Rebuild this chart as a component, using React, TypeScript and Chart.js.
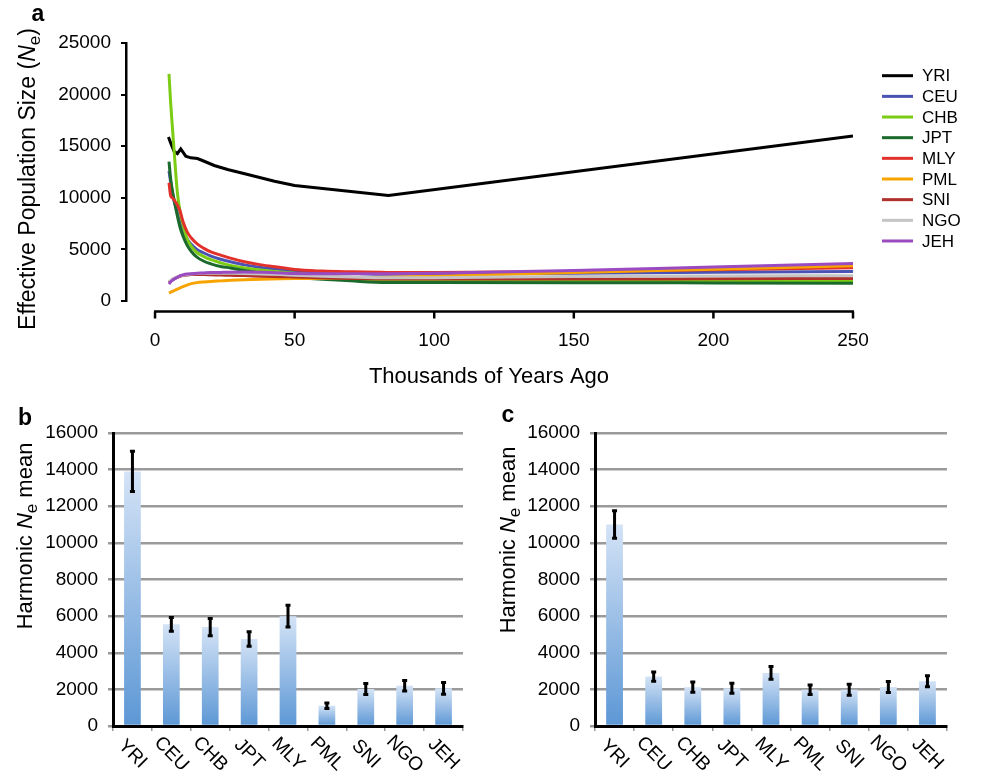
import React, { useEffect, useRef } from 'react';
import { Chart, registerables } from 'chart.js';
Chart.register(...registerables);

const FONT = '"Liberation Sans", Arial, Helvetica, sans-serif';

// ---------- Panel a data ----------
const populations = ['YRI', 'CEU', 'CHB', 'JPT', 'MLY', 'PML', 'SNI', 'NGO', 'JEH'];
const lineColors = ['#000000', '#4A52B4', '#7CCB14', '#1B6A2C', '#E2312B', '#F7A400', '#B0302A', '#C4C4C4', '#9B4BC2'];

const yriTimes = [4.8, 5.6, 6.8, 8, 9.2, 11, 12.8, 15.2, 17.6, 21.2, 26, 33.2, 42.8, 50, 83.6, 250];
const yriNe = [15900, 15320, 14510, 14285, 14740, 14030, 13870, 13800, 13540, 13130, 12740, 12260, 11610, 11200, 10230, 16000];

const timesKya = [5, 5.6, 6.2, 6.8, 8, 9, 10, 11.5, 13, 15, 17.5, 20, 23.5, 27, 32, 38, 45, 50, 60, 70, 83, 100, 150, 200, 250];
const ceuNe = [12600, 11500, 10500, 9700, 8560, 7500, 6900, 6000, 5500, 5000, 4650, 4350, 4050, 3800, 3500, 3250, 3050, 2850, 2750, 2680, 2600, 2620, 2700, 2780, 2865];
const chbNe = [22000, 19200, 16900, 14700, 10500, 8600, 7400, 6000, 5300, 4700, 4300, 4000, 3700, 3450, 3200, 3000, 2800, 2700, 2450, 2200, 1950, 1920, 1920, 1940, 1960];
const jptNe = [13500, 11800, 10700, 9850, 8240, 7100, 6300, 5400, 4800, 4250, 3850, 3600, 3350, 3200, 2950, 2700, 2450, 2300, 2100, 1950, 1800, 1790, 1780, 1750, 1710];
const mlyNe = [11460, 10200, 10000, 9800, 9300, 8700, 7700, 6700, 6100, 5550, 5100, 4750, 4450, 4150, 3800, 3500, 3250, 3050, 2900, 2830, 2770, 2760, 2850, 3030, 3215];
const pmlNe = [770, 850, 930, 1000, 1160, 1280, 1390, 1540, 1680, 1780, 1850, 1900, 1950, 2000, 2060, 2110, 2150, 2170, 2200, 2240, 2290, 2400, 2750, 3080, 3410];
const sniNe = [1750, 1900, 2050, 2150, 2300, 2400, 2470, 2530, 2560, 2570, 2560, 2540, 2510, 2490, 2460, 2410, 2360, 2320, 2250, 2190, 2130, 2120, 2120, 2160, 2190];
const ngoNe = [1870, 2000, 2100, 2200, 2350, 2430, 2500, 2570, 2620, 2660, 2680, 2690, 2690, 2680, 2660, 2620, 2560, 2500, 2400, 2320, 2250, 2260, 2380, 2420, 2445];
const jehNe = [1640, 1860, 2000, 2120, 2300, 2450, 2530, 2610, 2650, 2690, 2720, 2750, 2770, 2790, 2800, 2780, 2720, 2660, 2640, 2640, 2650, 2700, 2960, 3300, 3640];

const xTicksA = [0, 50, 100, 150, 200, 250];
const yTicksA = [0, 5000, 10000, 15000, 20000, 25000];

// ---------- Panel b / c data ----------
const harmonicB = [13900, 5550, 5400, 4750, 6000, 1110, 2020, 2200, 2060];
const errorB = [1100, 370, 470, 400, 590, 150, 300, 290, 320];
const harmonicC = [11000, 2700, 2120, 2060, 2900, 1980, 1980, 2130, 2450];
const errorC = [750, 255, 280, 275, 350, 265, 300, 300, 300];
const yTicksBar = [0, 2000, 4000, 6000, 8000, 10000, 12000, 14000, 16000];

type Part = { text: string; font: string; dy?: number };

const plainNumber = (v: any) => String(v);

function drawRich(ctx: CanvasRenderingContext2D, parts: Part[], cx: number, cy: number, angle: number, base: number) {
  ctx.save();
  ctx.translate(cx, cy);
  ctx.rotate(angle);
  let total = 0;
  const widths = parts.map((p) => {
    ctx.font = p.font;
    const w = ctx.measureText(p.text).width;
    total += w;
    return w;
  });
  let x = -total / 2;
  ctx.textAlign = 'left';
  ctx.textBaseline = 'alphabetic';
  ctx.fillStyle = '#000';
  parts.forEach((p, i) => {
    ctx.font = p.font;
    ctx.fillText(p.text, x, base + (p.dy || 0));
    x += widths[i];
  });
  ctx.restore();
}

function drawLetter(ctx: CanvasRenderingContext2D, letter: string, x: number, y: number) {
  ctx.save();
  ctx.font = `bold 23px ${FONT}`;
  ctx.fillStyle = '#000';
  ctx.textAlign = 'center';
  ctx.textBaseline = 'alphabetic';
  ctx.fillText(letter, x, y);
  ctx.restore();
}

function LineChart() {
  const ref = useRef<HTMLCanvasElement | null>(null);
  useEffect(() => {
    const canvas = ref.current;
    if (!canvas) return;
    const seriesValues = [yriNe, ceuNe, chbNe, jptNe, mlyNe, pmlNe, sniNe, ngoNe, jehNe];
    const datasets = populations.map((name, i) => {
      const times = i === 0 ? yriTimes : timesKya;
      const vals = seriesValues[i];
      return {
        label: name,
        data: times.map((t, j) => ({ x: t, y: vals[j] })),
        borderColor: lineColors[i],
        backgroundColor: lineColors[i],
        borderWidth: 3,
        pointRadius: 0,
        fill: false,
        tension: 0,
        cubicInterpolationMode: i === 0 ? 'default' : 'monotone',
        order: 9 - i,
      };
    });

    const decor = {
      id: 'decorA',
      afterDraw(chart: any) {
        const { ctx, chartArea, scales } = chart;
        const xs = scales.x;
        const y0 = chartArea.bottom + 10.5;
        ctx.save();
        ctx.strokeStyle = '#000';
        ctx.lineWidth = 2.5;
        ctx.beginPath();
        ctx.moveTo(xs.getPixelForValue(xTicksA[0]) - 1, y0);
        ctx.lineTo(xs.getPixelForValue(xTicksA[xTicksA.length - 1]) + 1, y0);
        ctx.stroke();
        xTicksA.forEach((v) => {
          const px = xs.getPixelForValue(v);
          ctx.beginPath();
          ctx.moveTo(px, y0);
          ctx.lineTo(px, y0 + 7);
          ctx.stroke();
        });
        ctx.restore();

        ctx.save();
        populations.forEach((name, i) => {
          const ly = 75.7 + i * 20.66;
          ctx.strokeStyle = lineColors[i];
          ctx.lineWidth = 3;
          ctx.beginPath();
          ctx.moveTo(882, ly);
          ctx.lineTo(913, ly);
          ctx.stroke();
          ctx.fillStyle = '#000';
          ctx.font = `17px ${FONT}`;
          ctx.textAlign = 'left';
          ctx.textBaseline = 'middle';
          ctx.fillText(name, 922, ly + 1);
        });
        ctx.restore();

        ctx.save();
        ctx.fillStyle = '#000';
        ctx.font = `22px ${FONT}`;
        ctx.textAlign = 'center';
        ctx.textBaseline = 'middle';
        ctx.fillText('Thousands of Years Ago', 489, 377);
        ctx.restore();

        drawRich(
          ctx,
          [
            { text: 'Effective Population Size (', font: `23px ${FONT}` },
            { text: 'N', font: `italic 23px ${FONT}` },
            { text: 'e', font: `17px ${FONT}`, dy: 5 },
            { text: ')', font: `23px ${FONT}` },
          ],
          27,
          179,
          -Math.PI / 2,
          8
        );
        drawLetter(ctx, 'a', 38, 21);
      },
    };

    const chart = new Chart(canvas, {
      type: 'line',
      data: { datasets: datasets as any },
      options: {
        animation: false,
        responsive: false,
        devicePixelRatio: 1,
        layout: { padding: { left: 0, right: 130, top: 43, bottom: 0 } },
        plugins: { legend: { display: false }, tooltip: { enabled: false } },
        scales: {
          x: {
            type: 'linear',
            min: -10.4,
            max: 250,
            afterBuildTicks: (s: any) => {
              s.ticks = xTicksA.map((v) => ({ value: v }));
            },
            afterFit: (s: any) => {
              s.height = 94;
            },
            grid: { display: false, drawTicks: false },
            border: { display: false },
            ticks: { padding: 28, color: '#000', font: { family: FONT, size: 19 }, maxRotation: 0, autoSkip: false, callback: plainNumber },
          },
          y: {
            min: 0,
            max: 25000,
            afterBuildTicks: (s: any) => {
              s.ticks = yTicksA.map((v) => ({ value: v }));
            },
            afterFit: (s: any) => {
              s.width = 126;
            },
            grid: { drawOnChartArea: false, drawTicks: true, tickLength: 5, color: '#000', lineWidth: 2 },
            border: { display: true, color: '#000', width: 2.5 },
            ticks: { padding: 10, color: '#000', font: { family: FONT, size: 19 }, callback: plainNumber },
          },
        },
      } as any,
      plugins: [decor],
    });
    return () => chart.destroy();
  }, []);
  return <canvas ref={ref} width={983} height={395} style={{ position: 'absolute', left: 0, top: 0, display: 'block' }} />;
}

function BarChart(props: { values: number[]; errors: number[]; letter: string; left: number; width: number; axisLeft: number; axisRight: number; titleX: number; titleY: number; letterX: number; letterY: number }) {
  const ref = useRef<HTMLCanvasElement | null>(null);
  useEffect(() => {
    const canvas = ref.current;
    if (!canvas) return;
    const { values, errors } = props;

    const grad = (c: any) => {
      const chart = c.chart;
      const area = chart.chartArea;
      if (!area || !chart.scales.y) return '#8DB4E2';
      const v = c.parsed ? c.parsed.y : c.raw;
      const top = chart.scales.y.getPixelForValue(v);
      const bottom = chart.scales.y.getPixelForValue(0);
      if (!isFinite(top) || !isFinite(bottom) || top === bottom) return '#8DB4E2';
      const g = chart.ctx.createLinearGradient(0, bottom, 0, top);
      g.addColorStop(0, '#5C97D5');
      g.addColorStop(1, '#D4E3F6');
      return g;
    };

    const decor = {
      id: 'decorBar',
      afterDatasetsDraw(chart: any) {
        const { ctx, scales } = chart;
        const meta = chart.getDatasetMeta(0);
        ctx.save();
        ctx.strokeStyle = '#000';
        ctx.lineWidth = 3;
        values.forEach((v, i) => {
          const x = meta.data[i].x;
          const yt = scales.y.getPixelForValue(v + errors[i]);
          const yb = scales.y.getPixelForValue(v - errors[i]);
          ctx.beginPath();
          ctx.moveTo(x, yt);
          ctx.lineTo(x, yb);
          ctx.stroke();
          ctx.beginPath();
          ctx.moveTo(x - 2.5, yt);
          ctx.lineTo(x + 2.5, yt);
          ctx.moveTo(x - 2.5, yb);
          ctx.lineTo(x + 2.5, yb);
          ctx.stroke();
        });
        ctx.restore();
      },
      afterDraw(chart: any) {
        const { ctx, chartArea, scales } = chart;
        ctx.save();
        ctx.font = `19px ${FONT}`;
        ctx.fillStyle = '#000';
        ctx.textAlign = 'center';
        ctx.textBaseline = 'middle';
        populations.forEach((lab, i) => {
          const x = scales.x.getPixelForValue(i);
          ctx.save();
          ctx.translate(x, chartArea.bottom + 28);
          ctx.rotate(Math.PI / 4);
          ctx.fillText(lab, 0, 0);
          ctx.restore();
        });
        ctx.restore();
        drawRich(
          ctx,
          [
            { text: 'Harmonic ', font: `22px ${FONT}` },
            { text: 'N', font: `italic 22px ${FONT}` },
            { text: 'e', font: `17px ${FONT}`, dy: 5 },
            { text: ' mean', font: `22px ${FONT}` },
          ],
          props.titleX,
          props.titleY,
          -Math.PI / 2,
          8
        );
        drawLetter(ctx, props.letter, props.letterX, props.letterY);
      },
    };

    const chart = new Chart(canvas, {
      type: 'bar',
      data: {
        labels: populations,
        datasets: [
          {
            data: values,
            backgroundColor: grad,
            borderWidth: 0,
            barPercentage: 0.43,
            categoryPercentage: 1,
          },
        ],
      },
      options: {
        animation: false,
        responsive: false,
        devicePixelRatio: 1,
        layout: { padding: { left: 0, right: props.width - props.axisRight, top: 38, bottom: 0 } },
        plugins: { legend: { display: false }, tooltip: { enabled: false } },
        scales: {
          x: {
            afterFit: (s: any) => {
              s.height = 55;
            },
            ticks: { display: false },
            grid: { display: true, drawOnChartArea: false, drawTicks: true, tickLength: 5, color: '#999', lineWidth: 1.5, offset: true },
            border: { display: true, color: '#000', width: 3 },
          },
          y: {
            min: 0,
            max: 16000,
            afterBuildTicks: (s: any) => {
              s.ticks = yTicksBar.map((v) => ({ value: v }));
            },
            afterFit: (s: any) => {
              s.width = props.axisLeft;
            },
            grid: { color: '#9a9a9a', lineWidth: 2.5, drawTicks: true, tickLength: 5 },
            border: { display: true, color: '#000', width: 3 },
            ticks: { padding: 10, color: '#000', font: { family: FONT, size: 19 }, callback: plainNumber },
          },
        },
      } as any,
      plugins: [decor],
    });
    return () => chart.destroy();
  }, []);
  return (
    <canvas
      ref={ref}
      width={props.width}
      height={386}
      style={{ position: 'absolute', left: props.left, top: 395, display: 'block' }}
    />
  );
}

export default function App() {
  return (
    <div style={{ position: 'absolute', left: 0, top: 0, width: 983, height: 781, background: '#fff', overflow: 'hidden' }}>
      <LineChart />
      <BarChart values={harmonicB} errors={errorB} letter="b" left={0} width={490} axisLeft={113} axisRight={463} titleX={24} titleY={141} letterX={25} letterY={30} />
      <BarChart values={harmonicC} errors={errorC} letter="c" left={490} width={493} axisLeft={105} axisRight={457} titleX={17} titleY={145} letterX={18} letterY={27} />
    </div>
  );
}
